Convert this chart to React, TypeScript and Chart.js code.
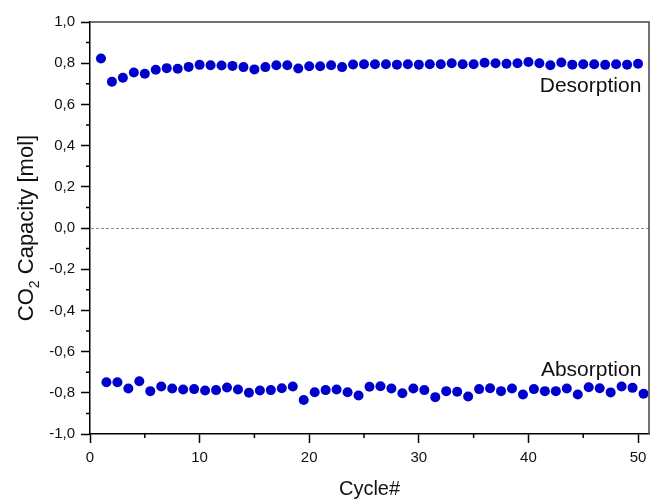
import React, { useEffect, useRef } from 'react';
import { Chart, registerables } from 'chart.js';

Chart.register(...registerables);

const desorptionCycles = [1, 2, 3, 4, 5, 6, 7, 8, 9, 10, 11, 12, 13, 14, 15, 16, 17, 18, 19, 20, 21, 22, 23, 24, 25, 26, 27, 28, 29, 30, 31, 32, 33, 34, 35, 36, 37, 38, 39, 40, 41, 42, 43, 44, 45, 46, 47, 48, 49, 50];
const desorptionValues = [0.823, 0.710, 0.729, 0.755, 0.749, 0.768, 0.776, 0.773, 0.782, 0.792, 0.790, 0.789, 0.787, 0.781, 0.770, 0.781, 0.790, 0.790, 0.774, 0.785, 0.785, 0.790, 0.781, 0.794, 0.795, 0.795, 0.795, 0.793, 0.795, 0.793, 0.795, 0.795, 0.800, 0.795, 0.795, 0.802, 0.800, 0.797, 0.800, 0.806, 0.800, 0.790, 0.803, 0.793, 0.795, 0.795, 0.792, 0.795, 0.793, 0.797];

const absorptionCycles = [1.5, 2.5, 3.5, 4.5, 5.5, 6.5, 7.5, 8.5, 9.5, 10.5, 11.5, 12.5, 13.5, 14.5, 15.5, 16.5, 17.5, 18.5, 19.5, 20.5, 21.5, 22.5, 23.5, 24.5, 25.5, 26.5, 27.5, 28.5, 29.5, 30.5, 31.5, 32.5, 33.5, 34.5, 35.5, 36.5, 37.5, 38.5, 39.5, 40.5, 41.5, 42.5, 43.5, 44.5, 45.5, 46.5, 47.5, 48.5, 49.5, 50.5];
const absorptionValues = [-0.749, -0.749, -0.779, -0.744, -0.792, -0.769, -0.779, -0.784, -0.782, -0.789, -0.787, -0.774, -0.784, -0.800, -0.789, -0.787, -0.778, -0.769, -0.835, -0.797, -0.787, -0.784, -0.797, -0.813, -0.771, -0.768, -0.779, -0.802, -0.779, -0.787, -0.821, -0.792, -0.795, -0.818, -0.782, -0.778, -0.792, -0.779, -0.808, -0.782, -0.792, -0.792, -0.779, -0.808, -0.773, -0.778, -0.798, -0.769, -0.776, -0.805];

const xMajorTicks = [0, 10, 20, 30, 40, 50];
const xMinorTicks = [5, 15, 25, 35, 45];
const yMajorTicks = [-1.0, -0.8, -0.6, -0.4, -0.2, 0.0, 0.2, 0.4, 0.6, 0.8, 1.0];
const yMinorTicks = [-0.9, -0.7, -0.5, -0.3, -0.1, 0.1, 0.3, 0.5, 0.7, 0.9];

const xTitle = 'Cycle#';
const yTitleMain = 'CO';
const yTitleSub = '2';
const yTitleRest = ' Capacity [mol]';
const labelDesorption = 'Desorption';
const labelAbsorption = 'Absorption';

const FONT = '"Liberation Sans", Arial, Helvetica, sans-serif';
const DOT = 'rgb(0, 0, 205)';

const decorPlugin = {
  id: 'decor',
  beforeDatasetsDraw(chart: any) {
    const { ctx, chartArea } = chart;
    const ys = chart.scales.y;
    ctx.save();
    const y0 = ys.getPixelForValue(0);
    ctx.strokeStyle = '#8a8a8a';
    ctx.lineWidth = 1;
    ctx.setLineDash([3, 2]);
    ctx.beginPath();
    ctx.moveTo(chartArea.left + 1, y0 + 0.5);
    ctx.lineTo(chartArea.right, y0 + 0.5);
    ctx.stroke();
    ctx.setLineDash([]);
    ctx.restore();
  },
  afterDraw(chart: any) {
    const { ctx, chartArea } = chart;
    const xs = chart.scales.x;
    const ys = chart.scales.y;
    ctx.save();
    ctx.strokeStyle = '#444';
    ctx.lineWidth = 1.5;
    ctx.beginPath();
    ctx.moveTo(chartArea.left, chartArea.top);
    ctx.lineTo(chartArea.right, chartArea.top);
    ctx.lineTo(chartArea.right, chartArea.bottom);
    ctx.stroke();
    ctx.strokeStyle = '#000';
    ctx.lineWidth = 1.5;
    ctx.beginPath();
    yMinorTicks.forEach((v) => {
      const p = ys.getPixelForValue(v);
      ctx.moveTo(chartArea.left - 4, p);
      ctx.lineTo(chartArea.left, p);
    });
    xMinorTicks.forEach((v) => {
      const p = xs.getPixelForValue(v);
      ctx.moveTo(p, chartArea.bottom);
      ctx.lineTo(p, chartArea.bottom + 4);
    });
    ctx.stroke();
    ctx.fillStyle = '#111';
    ctx.font = `21px ${FONT}`;
    ctx.textAlign = 'right';
    ctx.textBaseline = 'middle';
    ctx.fillText(labelDesorption, xs.getPixelForValue(50.3), ys.getPixelForValue(0.69));
    ctx.fillText(labelAbsorption, xs.getPixelForValue(50.3), ys.getPixelForValue(-0.69));
    ctx.textAlign = 'center';
    ctx.font = `20px ${FONT}`;
    ctx.fillText(xTitle, (chartArea.left + chartArea.right) / 2, 489);
    const cy = (chartArea.top + chartArea.bottom) / 2;
    ctx.translate(27, cy);
    ctx.rotate(-Math.PI / 2);
    ctx.font = `22px ${FONT}`;
    const wMain = ctx.measureText(yTitleMain).width;
    const wRest = ctx.measureText(yTitleRest).width;
    ctx.font = `14px ${FONT}`;
    const wSub = ctx.measureText(yTitleSub).width;
    const total = wMain + wSub + wRest;
    let x = -total / 2;
    ctx.textAlign = 'left';
    ctx.textBaseline = 'middle';
    ctx.font = `22px ${FONT}`;
    ctx.fillText(yTitleMain, x, 0);
    x += wMain;
    ctx.font = `14px ${FONT}`;
    ctx.fillText(yTitleSub, x, 8);
    x += wSub;
    ctx.font = `22px ${FONT}`;
    ctx.fillText(yTitleRest, x, 0);
    ctx.restore();
  },
};

function fmt(v: number) {
  const r = Math.round(v * 10) / 10;
  const s = Math.abs(r) < 1e-9 ? '0.0' : r.toFixed(1);
  return s.replace('.', ',');
}

export default function App() {
  const ref = useRef<HTMLCanvasElement>(null);
  useEffect(() => {
    if (!ref.current) return;
    const chart = new Chart(ref.current, {
      type: 'scatter',
      data: {
        datasets: [
          {
            label: labelDesorption,
            data: desorptionCycles.map((c, i) => ({ x: c, y: desorptionValues[i] })),
            backgroundColor: DOT,
            borderColor: DOT,
            pointRadius: 5,
            pointBorderWidth: 0,
          },
          {
            label: labelAbsorption,
            data: absorptionCycles.map((c, i) => ({ x: c, y: absorptionValues[i] })),
            backgroundColor: DOT,
            borderColor: DOT,
            pointRadius: 5,
            pointBorderWidth: 0,
          },
        ],
      },
      options: {
        animation: false,
        responsive: false,
        maintainAspectRatio: false,
        layout: { padding: { top: 22, right: 3, left: 0, bottom: 0 } },
        plugins: { legend: { display: false }, tooltip: { enabled: false } },
        scales: {
          x: {
            type: 'linear',
            min: 0,
            max: 51,
            afterBuildTicks: (s: any) => {
              s.ticks = xMajorTicks.map((v) => ({ value: v }));
            },
            afterFit: (s: any) => {
              s.height = 67;
            },
            border: { display: true, color: '#000', width: 1.5 },
            grid: { display: true, drawOnChartArea: false, color: '#000', tickLength: 9, tickWidth: 1.5 },
            ticks: {
              color: '#111',
              font: { family: FONT, size: 15 },
              padding: 6,
              maxRotation: 0,
              callback: (v: any) => String(v),
            },
          },
          y: {
            type: 'linear',
            min: -1,
            max: 1,
            afterBuildTicks: (s: any) => {
              s.ticks = yMajorTicks.map((v) => ({ value: v }));
            },
            afterFit: (s: any) => {
              s.width = 90;
            },
            border: { display: true, color: '#000', width: 1.5 },
            grid: { display: true, drawOnChartArea: false, color: '#000', tickLength: 9, tickWidth: 1.5 },
            ticks: {
              color: '#111',
              font: { family: FONT, size: 15 },
              padding: 6,
              callback: (v: any) => fmt(Number(v)),
            },
          },
        },
      },
      plugins: [decorPlugin],
    });
    return () => chart.destroy();
  }, []);
  return (
    <div style={{ position: 'absolute', left: 0, top: 0, width: 654, height: 501, background: '#fff' }}>
      <canvas ref={ref} width={654} height={501} style={{ width: 654, height: 501 }} />
    </div>
  );
}
